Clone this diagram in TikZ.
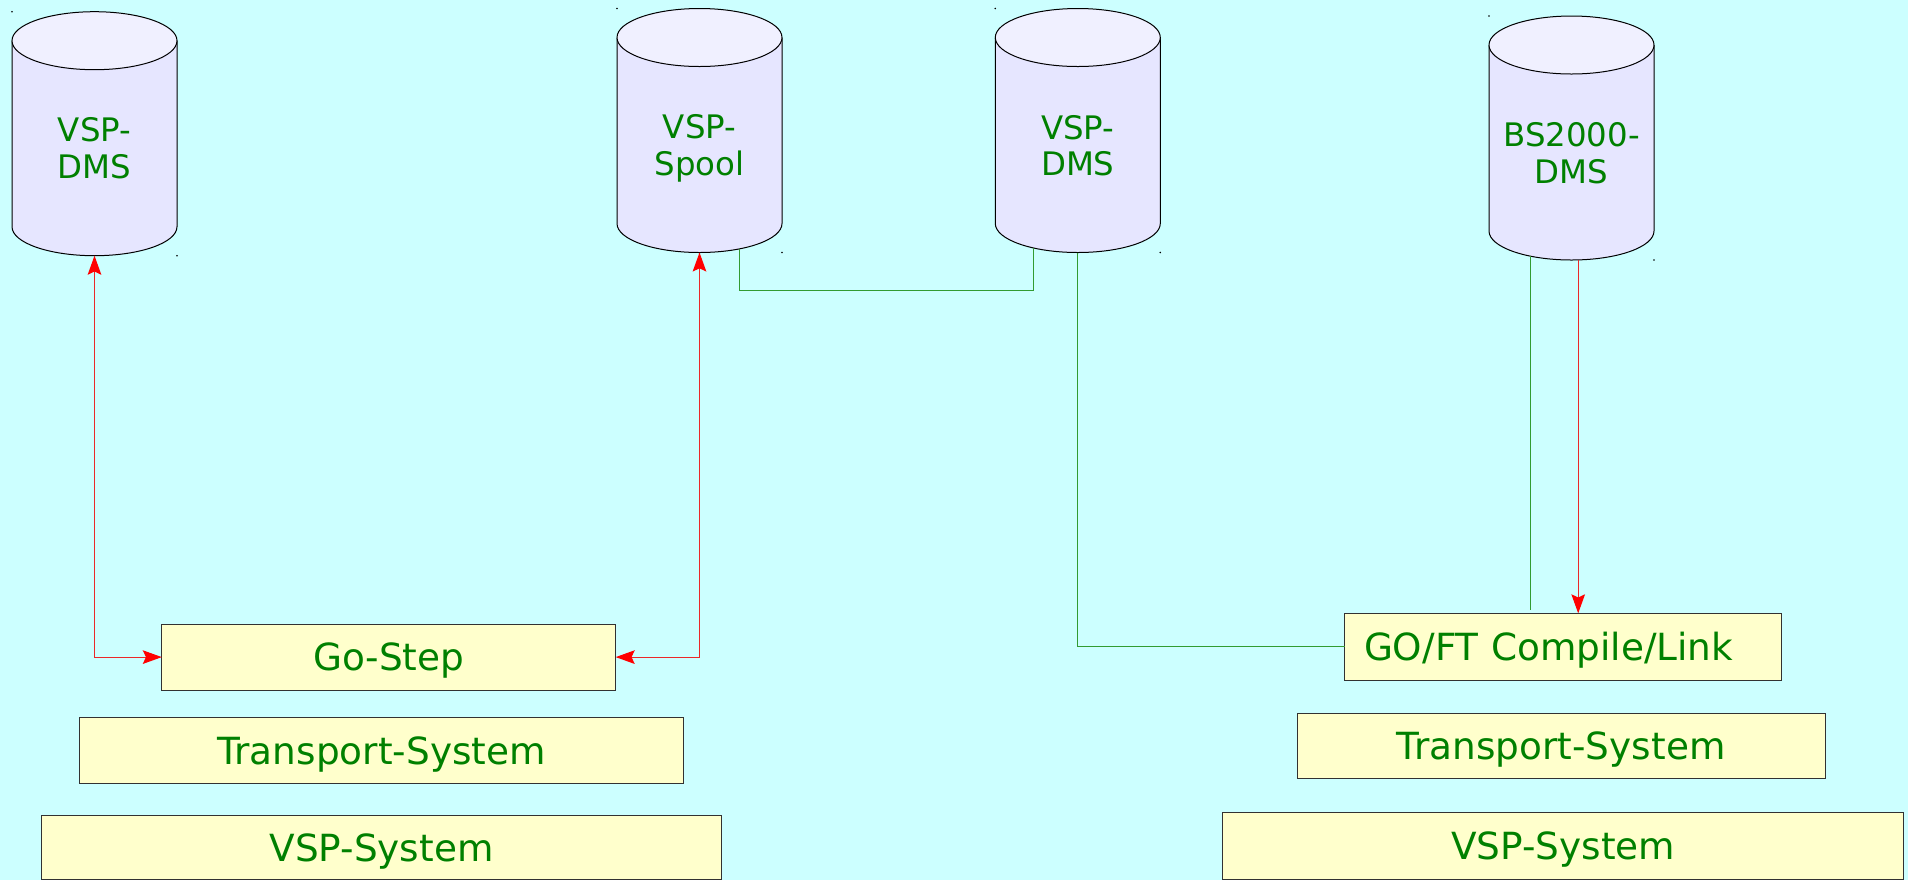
\documentclass[tikz,border=0pt]{standalone}
\usepackage{fontspec}
\setmainfont{DejaVu Sans}
\usetikzlibrary{arrows.meta,calc}
\definecolor{bgc}{RGB}{204,255,255}
\definecolor{boxfill}{RGB}{255,255,204}
\definecolor{boxline}{RGB}{50,50,50}
\definecolor{cylbody}{RGB}{230,230,255}
\definecolor{cyltop}{RGB}{240,240,255}
\definecolor{txtgreen}{RGB}{0,128,0}
\definecolor{lngreen}{RGB}{50,155,50}
\definecolor{lnred}{RGB}{235,40,40}
\newcommand\cylinderat[1]{%
  \fill[cylbody] ([yshift=-14.5pt]#1.north west) -- ([yshift=14.5pt]#1.south west)
    arc[start angle=180,end angle=360,x radius=41.25pt,y radius=14.5pt]
    -- ([yshift=-14.5pt]#1.north east) -- cycle;
  \draw[cylline] ([yshift=-14.5pt]#1.north west) -- ([yshift=14.5pt]#1.south west)
    arc[start angle=180,end angle=360,x radius=41.25pt,y radius=14.5pt]
    -- ([yshift=-14.5pt]#1.north east);
  \draw[cylline,fill=cyltop] ([yshift=-14.5pt]#1.north) ellipse[x radius=41.25pt,y radius=14.5pt];
  \fill[black] (#1.north west) circle[radius=0.45pt];
  \fill[black] (#1.south east) circle[radius=0.45pt];
}
\begin{document}
\begin{tikzpicture}[x=0.5pt,y=0.5pt,
  cylline/.style={draw=black,line width=0.5pt},
  cylframe/.style={minimum width=82.5pt,minimum height=122pt,inner sep=0pt,outer sep=0pt},
  cyltext/.style={text=txtgreen,align=center,font=\fontsize{16.2}{18.3}\selectfont,inner sep=0pt},
  box/.style={draw=boxline,fill=boxfill,line width=0.5pt,inner sep=0pt,outer sep=0pt,
    text=txtgreen,font=\fontsize{18.7}{22.4}\selectfont,text height=13.6pt,text depth=0pt},
  redcon/.style={draw=lnred,line width=0.55pt},
  greencon/.style={draw=lngreen,line width=0.65pt},
  tip/.tip={Stealth[length=9.5pt,width=6.8pt,inset=1.6pt,color=red,fill=red]}
]
\path[fill=bgc,use as bounding box] (0,0) rectangle (1908,-880);

% cylinders
\node[cylframe] (cylA) at (94.5,-133.7) {};
\node[cylframe] (cylB) at (699.5,-130.5) {};
\node[cylframe] (cylC) at (1077.8,-130.5) {};
\node[cylframe] (cylD) at (1571.5,-138) {};
\cylinderat{cylA}
\cylinderat{cylB}
\cylinderat{cylC}
\cylinderat{cylD}
\node[cyltext] (cylAt) at (94.5,-148.4) {VSP-\\DMS};
\node[cyltext] (cylBt) at (699.5,-148.5) {VSP-\\Spool};
\node[cyltext] (cylCt) at (1077.8,-145.5) {VSP-\\DMS};
\node[cyltext] (cylDt) at (1571.5,-153.2) {BS2000-\\DMS};

% boxes
\node[box,minimum width=226.95pt,minimum height=32.9pt] (gostep) at (388.75,-657.1) {Go-Step};
\node[box,minimum width=302.35pt,minimum height=32.85pt] (trL) at (381.45,-750.75) {Transport-System};
\node[box,minimum width=340.1pt,minimum height=32.1pt] (vspL) at (381.5,-847.4) {VSP-System};
\node[box,minimum height=33.45pt,text width=199pt,align=left,inner xsep=9.7pt] (goft) at (1563,-646.75) {GO/FT Compile/Link};
\node[box,minimum width=264.05pt,minimum height=32.9pt] (trR) at (1561.15,-745.9) {Transport-System};
\node[box,minimum width=340.2pt,minimum height=33.35pt] (vspR) at (1563.1,-846.15) {VSP-System};

% connectors
\draw[redcon,{tip}-{tip}] (cylA.south) |- (gostep.west);
\draw[redcon,{tip}-{tip}] (cylB.south) |- (gostep.east);
\coordinate (bB) at ([xshift=19.9pt,yshift=1.8pt]cylB.south);
\coordinate (bC) at ([xshift=-22.25pt,yshift=2.3pt]cylC.south);
\coordinate (mid) at (0,-290.8);
\draw[greencon] (bB) -- (bB |- mid) -| (bC);
\draw[greencon] (cylC.south) |- (goft.west);
\coordinate (bD) at ([xshift=-20.4pt,yshift=1.9pt]cylD.south);
\draw[greencon] (bD) -- ($(bD |- goft.north)+(0,1.85pt)$);
\draw[redcon,-{tip}] ([xshift=3.35pt]cylD.south) -- ([xshift=7.6pt]goft.north);
\end{tikzpicture}
\end{document}
